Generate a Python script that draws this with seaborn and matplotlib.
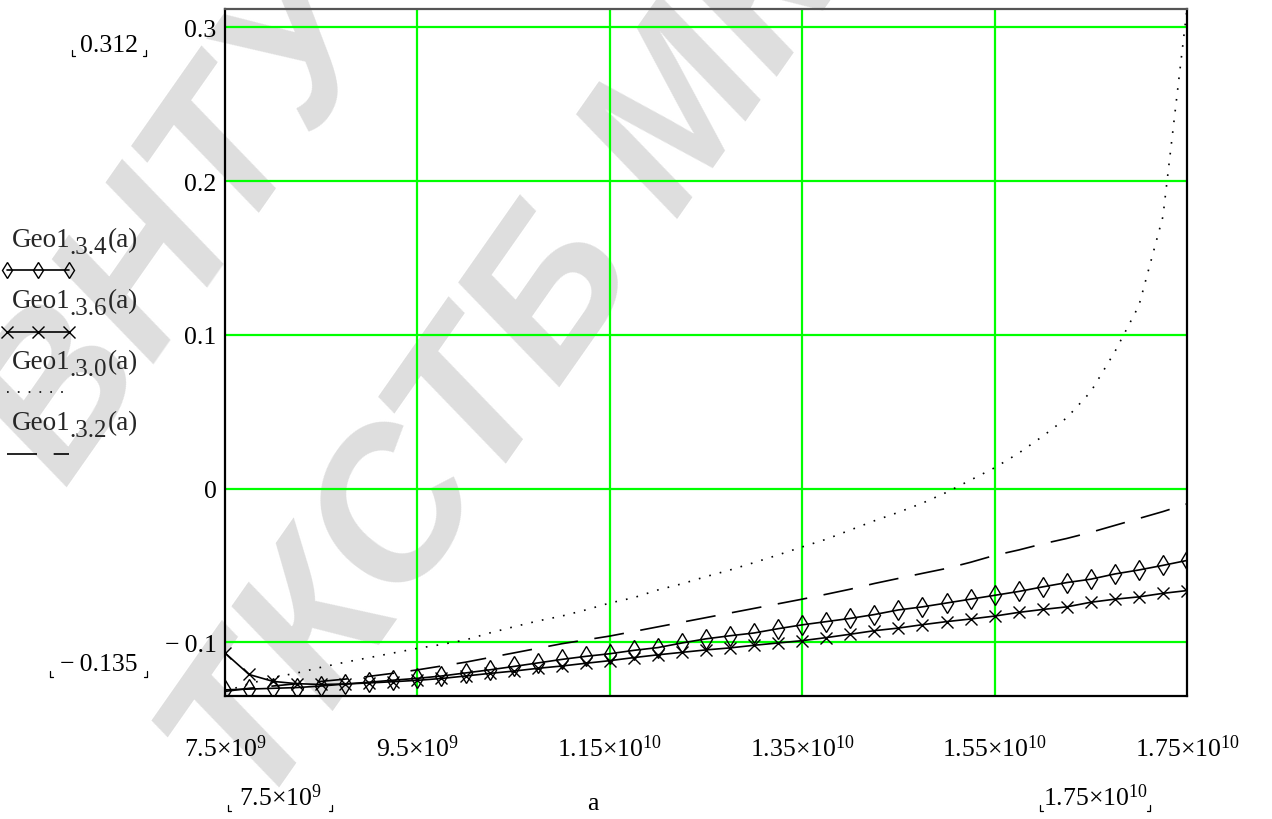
import matplotlib
matplotlib.use("Agg")
import matplotlib.pyplot as plt
from matplotlib.lines import Line2D
import pandas as pd
import seaborn as sns

# argument a, in units of 1e9
a_e9 = [7.50, 7.75, 8.00, 8.25, 8.50, 8.75, 9.00, 9.25, 9.50, 9.75,
        10.00, 10.25, 10.50, 10.75, 11.00, 11.25, 11.50, 11.75, 12.00, 12.25,
        12.50, 12.75, 13.00, 13.25, 13.50, 13.75, 14.00, 14.25, 14.50, 14.75,
        15.00, 15.25, 15.50, 15.75, 16.00, 16.25, 16.50, 16.75, 17.00, 17.25,
        17.50]

geo_34 = [-0.1310, -0.1305, -0.1300, -0.1295, -0.1285, -0.1272, -0.1260, -0.1247, -0.1235, -0.1220,
          -0.1200, -0.1180, -0.1158, -0.1135, -0.1112, -0.1092, -0.1075, -0.1053, -0.1035, -0.1005,
          -0.0978, -0.0958, -0.0940, -0.0912, -0.0887, -0.0866, -0.0845, -0.0820, -0.0790, -0.0770,
          -0.0745, -0.0720, -0.0695, -0.0670, -0.0640, -0.0612, -0.0590, -0.0556, -0.0530, -0.0500,
          -0.0468]

geo_36 = [-0.1070, -0.1210, -0.1255, -0.1270, -0.1275, -0.1272, -0.1265, -0.1257, -0.1248, -0.1236,
          -0.1220, -0.1203, -0.1188, -0.1170, -0.1155, -0.1137, -0.1120, -0.1100, -0.1082, -0.1066,
          -0.1050, -0.1037, -0.1020, -0.1005, -0.0990, -0.0970, -0.0948, -0.0925, -0.0908, -0.0886,
          -0.0866, -0.0849, -0.0830, -0.0806, -0.0787, -0.0770, -0.0740, -0.0720, -0.0705, -0.0682,
          -0.0664]

geo_30 = [-0.1320, -0.1270, -0.1230, -0.1200, -0.1163, -0.1130, -0.1100, -0.1070, -0.1040, -0.1015,
          -0.0985, -0.0940, -0.0900, -0.0862, -0.0830, -0.0790, -0.0745, -0.0710, -0.0660, -0.0620,
          -0.0573, -0.0530, -0.0482, -0.0432, -0.0380, -0.0330, -0.0270, -0.0210, -0.0155, -0.0095,
          -0.0025, 0.0055, 0.0135, 0.0230, 0.0340, 0.0460, 0.0630, 0.0890, 0.1190, 0.1770,
          0.3120]

geo_32 = [-0.1320, -0.1300, -0.1285, -0.1270, -0.1255, -0.1240, -0.1222, -0.1202, -0.1180, -0.1155,
          -0.1130, -0.1100, -0.1070, -0.1040, -0.1010, -0.0985, -0.0960, -0.0930, -0.0900, -0.0870,
          -0.0840, -0.0810, -0.0780, -0.0750, -0.0720, -0.0688, -0.0655, -0.0618, -0.0585, -0.0552,
          -0.0520, -0.0480, -0.0435, -0.0400, -0.0360, -0.0325, -0.0285, -0.0240, -0.0195, -0.0150,
          -0.0100]

x_ticks = [7.5e9, 9.5e9, 1.15e10, 1.35e10, 1.55e10, 1.75e10]
x_tick_labels = [r"$\mathregular{7.5{\times}10^{9}}$", r"$\mathregular{9.5{\times}10^{9}}$",
                 r"$\mathregular{1.15{\times}10^{10}}$", r"$\mathregular{1.35{\times}10^{10}}$",
                 r"$\mathregular{1.55{\times}10^{10}}$", r"$\mathregular{1.75{\times}10^{10}}$"]
y_ticks = [-0.1, 0.0, 0.1, 0.2, 0.3]
y_tick_labels = ["\u2212\u20090.1", "0", "0.1", "0.2", "0.3"]
x_lim = (7.5e9, 1.75e10)
y_lim = (-0.135, 0.312)

legend_names = ["Geo1", "Geo1", "Geo1", "Geo1"]
legend_subs = [".3.4", ".3.6", ".3.0", ".3.2"]
legend_args = ["(a)", "(a)", "(a)", "(a)"]

sns.set_theme(style="white")
plt.rcParams["font.family"] = ["Liberation Serif", "DejaVu Sans"]
plt.rcParams["mathtext.fontset"] = "custom"
plt.rcParams["mathtext.rm"] = "Liberation Serif"
plt.rcParams["mathtext.it"] = "Liberation Serif:italic"
plt.rcParams["mathtext.bf"] = "Liberation Serif:bold"

W, H = 1272, 820
fig = plt.figure(figsize=(W / 100, H / 100), dpi=100)
fig.patch.set_facecolor("white")


def fx(px):
    return px / W


def fy(py):
    return 1 - py / H


# large diagonal watermark behind the chart
wm = dict(fontsize=150, color="#dedede", rotation=55, rotation_mode="anchor",
          ha="left", va="baseline", fontweight="bold", fontstyle="italic",
          family=["Liberation Sans", "DejaVu Sans"], zorder=-5)
fig.text(fx(65), fy(490), "ВНТУ Ф", **wm)
fig.text(fx(258), fy(818), "ТКСТБ МК", **wm)

ax = fig.add_axes([fx(225), fy(697), fx(1187) - fx(225), fy(10) - fy(697)])
ax.set_facecolor("none")

df = pd.DataFrame({"a": [v * 1e9 for v in a_e9],
                   "g34": geo_34, "g36": geo_36, "g30": geo_30, "g32": geo_32})

common = dict(ax=ax, color="black", estimator=None, errorbar=None, sort=True, legend=False)
sns.lineplot(data=df, x="a", y="g30", linewidth=1.2, linestyle=(0, (1, 5.5)), **common)
sns.lineplot(data=df, x="a", y="g32", linewidth=1.2, linestyle=(0, (18, 10)), **common)
sns.lineplot(data=df, x="a", y="g34", linewidth=1.2, marker="d", markersize=10,
             markerfacecolor="none", markeredgecolor="black", markeredgewidth=1.0, **common)
sns.lineplot(data=df, x="a", y="g36", linewidth=1.2, marker="x", markersize=9,
             markeredgecolor="black", markeredgewidth=1.0, **common)

ax.set_xlim(*x_lim)
ax.set_ylim(*y_lim)
ax.set_xticks(x_ticks)
ax.set_xticklabels(x_tick_labels, fontsize=18.5)
ax.set_yticks(y_ticks)
ax.set_yticklabels(y_tick_labels, fontsize=18.5)
ax.tick_params(axis="both", length=0, colors="black")
ax.tick_params(axis="x", pad=28)
ax.tick_params(axis="y", pad=6)
ax.set_xlabel("")
ax.set_ylabel("")

# green grid lines at the inner tick positions
for xv in x_ticks[1:-1]:
    ax.axvline(xv, color="#00ff00", linewidth=1.6, zorder=0.5)
for yv in y_ticks:
    ax.axhline(yv, color="#00ff00", linewidth=1.6, zorder=0.5)

for side in ["left", "right", "bottom", "top"]:
    ax.spines[side].set_color("black")
    ax.spines[side].set_linewidth(1.6)
    ax.spines[side].set_visible(True)
ax.spines["top"].set_color("#555555")


def corner_marks(xl, xr, yb, h=6, w=3):
    """Small placeholder corners around an editable range value."""
    for xs, ys in (([xl, xl, xl + w], [yb - h, yb, yb]),
                   ([xr, xr, xr - w], [yb - h, yb, yb])):
        fig.add_artist(Line2D([fx(v) for v in xs], [fy(v) for v in ys],
                              transform=fig.transFigure, color="black", linewidth=0.9))


# axis range values and the argument name
lim_style = dict(fontsize=18.5, color="black", va="center", ha="center")
fig.text(fx(109), fy(46), "0.312", **lim_style)
corner_marks(72, 146, 57)
fig.text(fx(99), fy(665), "\u2212\u20090.135", **lim_style)
corner_marks(50, 147, 678)
fig.text(fx(280), fy(798), r"$\mathregular{7.5{\times}10^{9}}$", **lim_style)
corner_marks(228, 332, 812)
fig.text(fx(1095), fy(798), r"$\mathregular{1.75{\times}10^{10}}$", **lim_style)
corner_marks(1040, 1150, 812)
fig.text(fx(593), fy(804), "a", **lim_style)

# trace legend: name above a short sample of each trace
renderer = fig.canvas.get_renderer()
legend_base = [247, 308, 369, 430]
sample_y = [271, 333, 393, 455]
sample_kw = [
    dict(linestyle="-", marker="d", markersize=8, markerfacecolor="none", markeredgewidth=1.0),
    dict(linestyle="-", marker="x", markersize=8, markeredgewidth=1.0),
    dict(linestyle=(0, (1, 5.5))),
    dict(linestyle=(0, (18, 10))),
]
for name, sub, arg, by, sy, kw in zip(legend_names, legend_subs, legend_args,
                                      legend_base, sample_y, sample_kw):
    t1 = fig.text(fx(12), fy(by), name, fontsize=19.5, ha="left", va="baseline")
    x1 = t1.get_window_extent(renderer).x1
    t2 = fig.text(x1 / W - fx(1), fy(by + 7), sub, fontsize=18, ha="left", va="baseline")
    x2 = t2.get_window_extent(renderer).x1
    fig.text(x2 / W + fx(1), fy(by), arg, fontsize=19.5, ha="left", va="baseline")
    fig.add_artist(Line2D([fx(7), fx(38), fx(69)], [fy(sy)] * 3, transform=fig.transFigure,
                          color="black", linewidth=1.2, **kw))

fig.savefig("out.png", dpi=100, facecolor="white")
